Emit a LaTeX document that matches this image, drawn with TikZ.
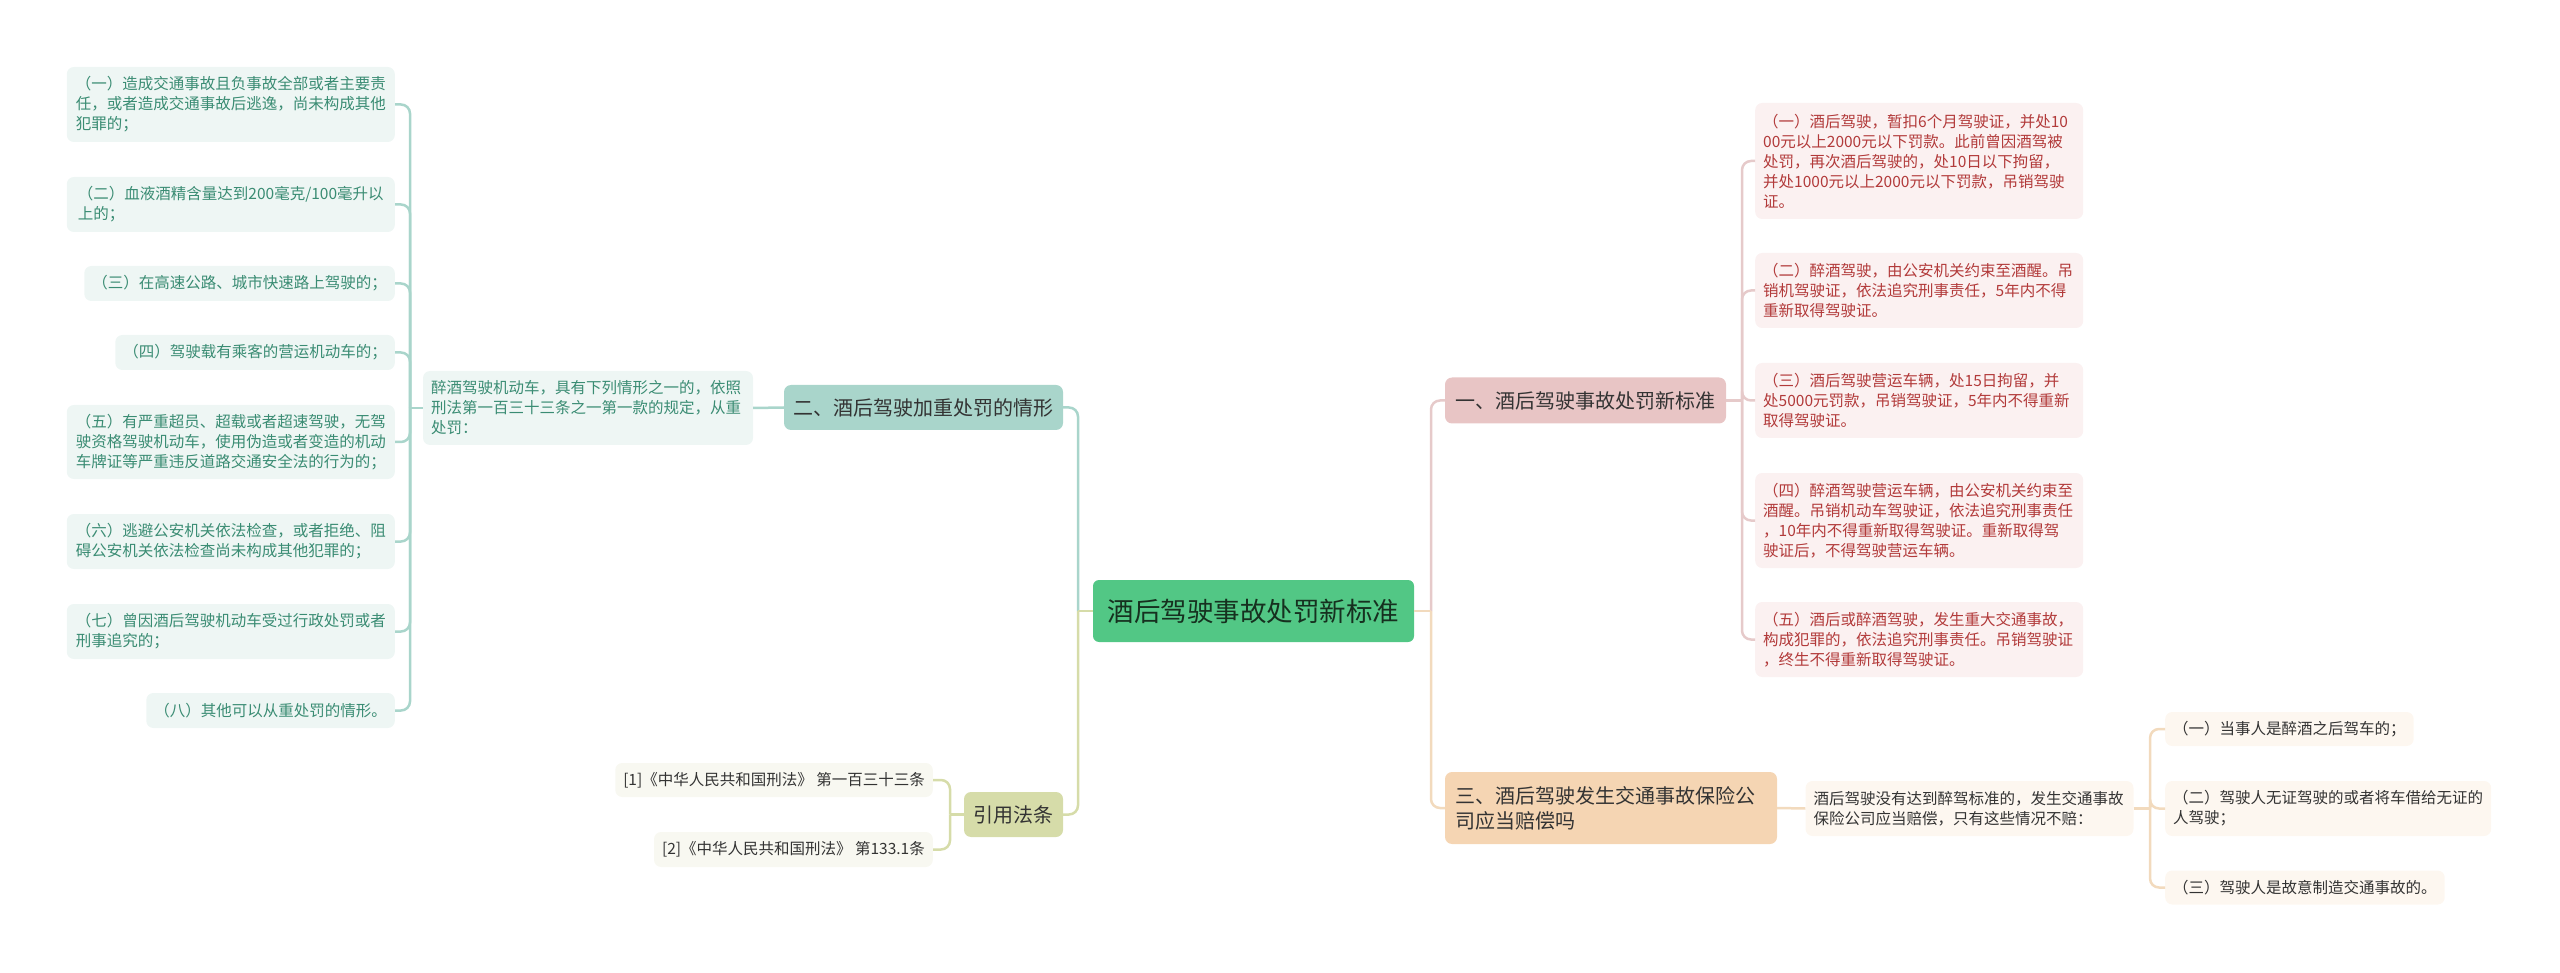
\documentclass[tikz,border=0pt]{standalone}
\usepackage{fontspec}
\setmainfont{Noto Sans CJK SC}
\definecolor{cG}{HTML}{52C785}
\definecolor{cT}{HTML}{16301F}
\definecolor{gF}{HTML}{A9D5CB}
\definecolor{gL}{HTML}{EEF6F4}
\definecolor{gT}{HTML}{3A8C73}
\definecolor{pF}{HTML}{E8C5C5}
\definecolor{pL}{HTML}{FBF1F1}
\definecolor{pT}{HTML}{B23A3A}
\definecolor{pLine}{HTML}{E6CACA}
\definecolor{sF}{HTML}{F5D5B3}
\definecolor{sL}{HTML}{FDF7F0}
\definecolor{sLine}{HTML}{F2DABD}
\definecolor{oF}{HTML}{D6DCA9}
\definecolor{oL}{HTML}{F8F8F1}
\definecolor{dT}{HTML}{333333}
\tikzset{
  box/.style={rounded corners=7pt, inner xsep=8pt, inner ysep=0pt, align=left,
    font=\fontsize{15.5}{20}\selectfont},
  wide/.style={box, text width=312pt},
  leafG/.style={box, fill=gL, text=gT},
  leafP/.style={wide, fill=pL, text=pT},
  leafS/.style={box, fill=sL, text=dT},
  leafO/.style={box, fill=oL, text=dT},
  mainbox/.style={rounded corners=7pt, inner sep=0pt, font=\fontsize{20}{25}\selectfont, text=dT},
  con/.style={line width=2.5pt, rounded corners=9pt},
  conG/.style={con, draw=gF},
  conP/.style={con, draw=pLine},
  conS/.style={con, draw=sLine},
  conO/.style={con, draw=oF},
}
\begin{document}
\begin{tikzpicture}[x=1pt,y=-1pt]
\useasboundingbox (0,0) rectangle (2560,973);

% root
\node[rounded corners=6pt, fill=cG, text=cT, inner sep=0pt, minimum width=321pt, minimum height=62pt,
  font=\fontsize{26.5}{30}\selectfont] (c) at (1253.5,611) {酒后驾驶事故处罚新标准};

% main branches
\node[mainbox, fill=pF, minimum width=281pt, minimum height=46pt] (n1) at (1585.5,400.5) {一、酒后驾驶事故处罚新标准};
\node[mainbox, fill=gF, minimum width=279pt, minimum height=45pt] (n2) at (923.5,407.5) {二、酒后驾驶加重处罚的情形};
\node[mainbox, fill=sF, inner xsep=10pt, text width=312pt, align=left, minimum height=72pt] (n3) at (1611,808) {三、酒后驾驶发生交通事故保险公\\司应当赔偿吗};
\node[mainbox, fill=oF, minimum width=99pt, minimum height=45pt] (nref) at (1013.5,814.5) {引用法条};

% left intermediate
\node[leafG, text width=314pt, minimum height=74pt] (iL) at (588,408) {醉酒驾驶机动车，具有下列情形之一的，依照\\刑法第一百三十三条之一第一款的规定，从重\\处罚：};

% left leaves
\node[leafG, anchor=east, minimum width=328pt, minimum height=75pt] (l1) at (395,104.5) {（一）造成交通事故且负事故全部或者主要责\\任，或者造成交通事故后逃逸，尚未构成其他\\犯罪的；};
\node[leafG, anchor=east, minimum width=328pt, minimum height=55pt] (l2) at (395,204.5) {（二）血液酒精含量达到200毫克/100毫升以\\上的；};
\node[leafG, anchor=east, minimum height=35pt] (l3) at (395,283.5) {（三）在高速公路、城市快速路上驾驶的；};
\node[leafG, anchor=east, minimum height=35pt] (l4) at (395,352.5) {（四）驾驶载有乘客的营运机动车的；};
\node[leafG, anchor=east, minimum width=328pt, minimum height=74pt] (l5) at (395,442) {（五）有严重超员、超载或者超速驾驶，无驾\\驶资格驾驶机动车，使用伪造或者变造的机动\\车牌证等严重违反道路交通安全法的行为的；};
\node[leafG, anchor=east, minimum width=328pt, minimum height=55pt] (l6) at (395,541.5) {（六）逃避公安机关依法检查，或者拒绝、阻\\碍公安机关依法检查尚未构成其他犯罪的；};
\node[leafG, anchor=east, minimum width=328pt, minimum height=55pt] (l7) at (395,631.5) {（七）曾因酒后驾驶机动车受过行政处罚或者\\刑事追究的；};
\node[leafG, anchor=east, minimum height=35pt] (l8) at (395,710.5) {（八）其他可以从重处罚的情形。};

% right top leaves
\node[leafP, anchor=west, minimum height=116pt] (r1) at (1755,161) {（一）酒后驾驶，暂扣6个月驾驶证，并处10\\00元以上2000元以下罚款。此前曾因酒驾被\\处罚，再次酒后驾驶的，处10日以下拘留，\\并处1000元以上2000元以下罚款，吊销驾驶\\证。};
\node[leafP, anchor=west, minimum height=75pt] (r2) at (1755,290.5) {（二）醉酒驾驶，由公安机关约束至酒醒。吊\\销机驾驶证，依法追究刑事责任，5年内不得\\重新取得驾驶证。};
\node[leafP, anchor=west, minimum height=75pt] (r3) at (1755,400.5) {（三）酒后驾驶营运车辆，处15日拘留，并\\处5000元罚款，吊销驾驶证，5年内不得重新\\取得驾驶证。};
\node[leafP, anchor=west, minimum height=95pt] (r4) at (1755,520.5) {（四）醉酒驾驶营运车辆，由公安机关约束至\\酒醒。吊销机动车驾驶证，依法追究刑事责任\\，10年内不得重新取得驾驶证。重新取得驾\\驶证后，不得驾驶营运车辆。};
\node[leafP, anchor=west, minimum height=75pt] (r5) at (1755,639.5) {（五）酒后或醉酒驾驶，发生重大交通事故，\\构成犯罪的，依法追究刑事责任。吊销驾驶证\\，终生不得重新取得驾驶证。};

% right bottom
\node[leafS, text width=312pt, minimum height=55pt] (i3) at (1969.5,808.5) {酒后驾驶没有达到醉驾标准的，发生交通事故\\保险公司应当赔偿，只有这些情况不赔：};
\node[leafS, anchor=west, minimum height=34pt] (b1) at (2165,729) {（一）当事人是醉酒之后驾车的；};
\node[leafS, anchor=west, minimum height=55pt] (b2) at (2165,808.5) {（二）驾驶人无证驾驶的或者将车借给无证的\\人驾驶；};
\node[leafS, anchor=west, minimum height=34pt] (b3) at (2165,887.5) {（三）驾驶人是故意制造交通事故的。};

% references
\node[leafO, anchor=east, minimum height=34pt] (f1) at (933,780) {[1]《中华人民共和国刑法》 第一百三十三条};
\node[leafO, anchor=east, minimum height=35pt] (f2) at (933,849.5) {[2]《中华人民共和国刑法》 第133.1条};

% junctions
\coordinate (jL) at (410,408);
\coordinate (jCL) at (1078,611);
\coordinate (jCR) at (1431,611);
\coordinate (jR1) at (1742,400.5);
\coordinate (jR3) at (2150,808.5);
\coordinate (jRef) at (950,814.5);

% connectors left
\draw[conG] (iL.west) -- (jL);
\foreach \n in {l1,l2,l3,l4,l5,l6,l7,l8} { \draw[conG] (jL) |- (\n.east); }
\draw[conG] (iL.east) -- (n2.west);
\draw[conG] (jCL) |- (n2.east);
\draw[conO] (jCL) |- (nref.east);
\draw[conO] (c.west) -- (jCL);
\draw[conO] (nref.west) -- (jRef);
\draw[conO] (jRef) |- (f1.east);
\draw[conO] (jRef) |- (f2.east);

% connectors right
\draw[conP] (jCR) |- (n1.west);
\draw[conS] (jCR) |- (n3.west);
\draw[conS] (c.east) -- (jCR);
\draw[conP] (n1.east) -- (jR1);
\foreach \n in {r1,r2,r3,r4,r5} { \draw[conP] (jR1) |- (\n.west); }
\draw[conS] (n3.east) -- (i3.west);
\draw[conS] (i3.east) -- (jR3);
\foreach \n in {b1,b2,b3} { \draw[conS] (jR3) |- (\n.west); }
\end{tikzpicture}
\end{document}
